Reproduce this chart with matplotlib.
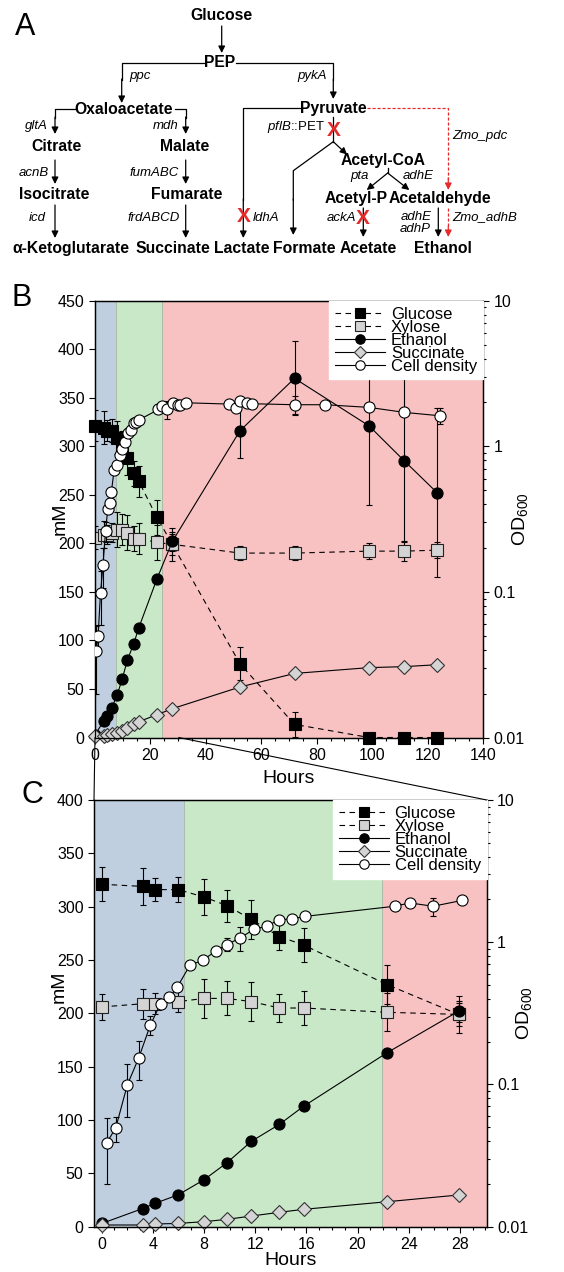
import numpy as np
import matplotlib
matplotlib.use('Agg')
from matplotlib import pyplot as plt
from matplotlib.patches import ConnectionPatch
from matplotlib.ticker import MultipleLocator, FuncFormatter, LogLocator

plt.rcParams['font.family'] = ['Liberation Sans', 'DejaVu Sans']
plt.rcParams['mathtext.fontset'] = 'custom'
plt.rcParams['mathtext.rm'] = 'Liberation Sans'
plt.rcParams['mathtext.it'] = 'Liberation Sans:italic'

# =============================================================================
# Data
# =============================================================================
# early time course (0-28 h), shown in C and in B
t_sugar = [0.0, 3.2, 4.2, 6.0, 8.0, 9.8, 11.7, 13.9, 15.8, 22.3, 27.9]
glucose = [321, 319, 316, 316, 309, 301, 288, 272, 264, 227, 199]
glucose_err = [16, 17, 11, 12, 17, 15, 18, 13, 16, 18, 11]
xylose = [206, 209, 209, 211, 214, 214, 211, 205, 205, 201, 199]
xylose_err = [12, 14, 10, 10, 18, 16, 18, 13, 16, 18, 17]
ethanol = [3, 17, 22, 30, 44, 60, 80, 96, 113, 163, 202]
ethanol_err = [0, 0, 0, 0, 0, 0, 0, 0, 0, 0, 10]
succinate = [1.6, 1.6, 2.5, 3.1, 4.7, 6.9, 10, 13.5, 16.3, 23.4, 29.7]

t_od = [0.4, 1.1, 2.0, 2.9, 3.8, 4.6, 5.3, 5.9, 6.9, 7.9, 8.9, 9.8, 10.8,
        11.9, 12.9, 13.9, 14.9, 15.9, 22.9, 24.1, 25.9, 28.2]
od600 = [0.039, 0.0495, 0.099, 0.154, 0.261, 0.369, 0.41, 0.483, 0.689,
         0.747, 0.865, 0.963, 1.07, 1.23, 1.30, 1.44, 1.46, 1.52, 1.79,
         1.89, 1.79, 1.97]
od600_err = [0.019, 0.01, 0.04, 0.047, 0.04, 0.02, 0.02, 0.03, 0.03, 0.03,
             0.06, 0.1, 0.2, 0.08, 0.1, 0.06, 0.06, 0.05, 0.05, 0.05, 0.25, 0.05]

# late time course (B only)
t_late = [52.3, 72.0, 98.9, 111.6, 123.5]
glucose_late = [76, 13.5, 0, 0, 0]
glucose_late_err = [17, 13, 0, 0, 0]
xylose_late = [190, 190, 192, 192, 193]
xylose_late_err = [7, 7, 8, 10, 8]
ethanol_late = [316, 370, 321, 285, 252]
ethanol_late_err = [28, 38, 81, 84, 87]
succinate_late = [52, 66, 72, 73, 75]

t_od_late = [30.1, 30.7, 32.9, 48.4, 50.8, 52.3, 54.8, 56.8, 72.2, 83.0,
             98.9, 111.6, 124.5]
od600_late = [1.91, 1.93, 1.99, 1.95, 1.83, 2.06, 1.99, 1.96, 1.93, 1.93,
              1.85, 1.71, 1.62]
od600_late_err = [0.05, 0.05, 0.05, 0.05, 0.05, 0.05, 0.05, 0.05, 0.27,
                  0.05, 0.05, 0.05, 0.2]

# growth phases (h)
phases_B = [(0, 7.5, '#bfcfe0'), (7.5, 24.3, '#c8e8c8'), (24.3, 140, '#f8c2c2')]
phases_C = [(-1, 6.4, '#bfcfe0'), (6.4, 21.9, '#c8e8c8'), (21.9, 31, '#f8c2c2')]

RED = '#e52a2a'


# =============================================================================
# Def plotting of one time-course panel
# =============================================================================
def draw_panel(ax, ts, g, ge, xy, xye, et, ete, su, to, od, ode, phases,
               mm_y, hours_pad):
    for a, b, c in phases:
        ax.axvspan(a, b, facecolor=c, edgecolor='#a8b8a8', lw=0.6, zorder=0)
    dash = (0, (5, 4))
    for vals, errs in ((g, ge), (xy, xye), (et, ete)):
        ax.errorbar(ts, vals, yerr=errs, fmt='none', ecolor='k', elinewidth=0.8,
                    capsize=2.5, capthick=0.8, zorder=2)
    h1, = ax.plot(ts, g, ls=dash, color='k', lw=0.8, marker='s', ms=8.5,
                  mfc='k', mec='k', mew=0.8, zorder=3, clip_on=False)
    h2, = ax.plot(ts, xy, ls=dash, color='k', lw=0.8, marker='s', ms=8.5,
                  mfc='#d4d4d4', mec='#222222', mew=0.8, zorder=3)
    h3, = ax.plot(ts, et, ls='-', color='k', lw=0.8, marker='o', ms=8,
                  mfc='k', mec='k', mew=0.8, zorder=3)
    h4, = ax.plot(ts, su, ls='-', color='k', lw=0.8, marker='D', ms=7,
                  mfc='#d4d4d4', mec='#333333', mew=0.8, zorder=3, clip_on=False)
    tw = ax.twinx()
    tw.set_yscale('log')
    tw.errorbar(to, od, yerr=ode, fmt='none', ecolor='k', elinewidth=0.8,
                capsize=2.5, capthick=0.8, zorder=2)
    h5, = tw.plot(to, od, ls='-', color='k', lw=0.8, marker='o', ms=8,
                  mfc='white', mec='k', mew=0.8, zorder=3)
    tw.set_ylim(0.01, 10)
    tw.yaxis.set_major_formatter(FuncFormatter(lambda v, p: '%g' % v))
    tw.yaxis.set_minor_locator(LogLocator(base=10, subs=np.arange(2, 10)))
    tw.set_ylabel(r'OD$_{600}$', fontsize=14)
    tw.yaxis.set_label_coords(1.07, 0.5)
    for a in (ax, tw):
        a.tick_params(axis='both', which='both', direction='out', labelsize=11.5)
        a.tick_params(which='major', length=4, width=0.8)
        a.tick_params(which='minor', length=2.5, width=0.8)
        for s in a.spines.values():
            s.set_linewidth(0.9)
    ax.set_ylabel('mM', fontsize=14)
    ax.yaxis.set_label_coords(-0.068, mm_y)
    ax.set_xlabel('Hours', fontsize=14, labelpad=hours_pad)
    ax.yaxis.set_major_locator(MultipleLocator(50))
    leg = tw.legend([h1, h2, h3, h4, h5],
                    ['Glucose', 'Xylose', 'Ethanol', 'Succinate', 'Cell density'],
                    loc='upper right', borderaxespad=0, frameon=True,
                    fancybox=False, edgecolor='white', framealpha=1,
                    fontsize=12, labelspacing=-0.12, handlelength=3.0,
                    handletextpad=0.35, borderpad=0.35, markerscale=0.85)
    leg.set_zorder(10)
    return tw


fig = plt.figure(figsize=(5.64, 12.72), dpi=100)
W, H = 564.0, 1272.0

# =============================================================================
# Panel A: pathway scheme (pixel coordinates, y downwards)
# =============================================================================
axA = fig.add_axes([0, 1 - 280 / H, 1, 280 / H])
axA.set_xlim(0, W)
axA.set_ylim(280, 0)
axA.axis('off')


def node(x, y, s):
    axA.text(x, y, s, fontsize=11.3, fontweight='bold', ha='center', va='center')


def gene(x, y, s, ha='center'):
    axA.text(x, y, s, fontsize=9.5, style='italic', ha=ha, va='center')


def arrow(x0, y0, x1, y1, color='k', ls='-'):
    axA.annotate('', xy=(x1, y1), xytext=(x0, y0),
                 arrowprops=dict(arrowstyle='-|>', mutation_scale=10, lw=0.9,
                                 color=color, linestyle=ls, shrinkA=0, shrinkB=0))


def cross(x, y):
    axA.text(x, y, 'X', fontsize=15, fontweight='bold', color=RED,
             ha='center', va='center')


node(221.7, 16, 'Glucose')
arrow(221.7, 26, 221.7, 53)
node(220, 62.7, 'PEP')
axA.plot([205, 121.7, 121.7], [62.7, 62.7, 80], color='k', lw=0.9)
arrow(121.7, 79, 121.7, 103)
axA.plot([236, 333.3, 333.3], [62.7, 62.7, 80], color='k', lw=0.9)
arrow(333.3, 79, 333.3, 99)
gene(140, 76, 'ppc')
gene(311.7, 76, 'pykA')

node(123.3, 109.3, 'Oxaloacetate')
axA.plot([76, 55, 55], [109.3, 109.3, 118], color='k', lw=0.9)
arrow(55, 117, 55, 134)
gene(36.7, 126, 'gltA')
axA.plot([175, 185.7, 185.7], [109.3, 109.3, 118], color='k', lw=0.9)
arrow(185.7, 117, 185.7, 134)
gene(165.7, 126, 'mdh')
node(56, 146.7, 'Citrate')
node(185, 146.7, 'Malate')
arrow(55, 160, 55, 184)
gene(34.3, 173.3, 'acnB')
node(54.3, 194.3, 'Isocitrate')
arrow(185.7, 160, 185.7, 184)
gene(154.3, 173.3, 'fumABC')
node(186.7, 194.3, 'Fumarate')
arrow(55, 205, 55, 238)
gene(37.7, 218.3, 'icd')
node(71, 248.3, 'α-Ketoglutarate')
arrow(185.7, 205, 185.7, 238)
gene(153.3, 218.3, 'frdABCD')
node(173.3, 248.3, 'Succinate')

node(333.3, 108.3, 'Pyruvate')
axA.plot([300, 243.3, 243.3], [108.3, 108.3, 200], color='k', lw=0.9)
arrow(243.3, 199, 243.3, 238)
cross(243.3, 216)
gene(253, 218.3, 'ldhA', ha='left')
node(241.7, 248.3, 'Lactate')

axA.plot([333.3, 333.3], [117, 141.7], color='k', lw=0.9)
cross(333.3, 130.7)
axA.text(325, 126.7, r'$\mathit{pflB}$::PET', fontsize=9.5, ha='right', va='center')
axA.plot([333.3, 293.3, 293.3], [141.7, 170.7, 200], color='k', lw=0.9)
arrow(293.3, 199, 293.3, 235)
node(304, 248.3, 'Formate')
arrow(333.3, 141.7, 347, 154.5)
node(382.7, 161, 'Acetyl-CoA')
axA.plot([387.7, 387.7], [168, 173], color='k', lw=0.9)
arrow(387.7, 173, 366.7, 190)
arrow(387.7, 173, 409.3, 190)
gene(359.3, 176, 'pta')
gene(418.3, 176, 'adhE')
node(356, 198.3, 'Acetyl-P')
node(440, 198.3, 'Acetaldehyde')
arrow(363.3, 208, 363.3, 237)
cross(362.7, 218.3)
gene(341, 218.3, 'ackA')
node(368.3, 248.3, 'Acetate')
arrow(438.3, 208, 438.3, 237)
axA.plot([448.3, 448.3], [208, 228], color=RED, lw=0.9, ls=(0, (2.5, 1.5)))
arrow(448.3, 226, 448.3, 237, color=RED)
gene(416, 216.7, 'adhE')
gene(415, 229.3, 'adhP')
gene(485, 216.7, 'Zmo_adhB')
node(443.3, 248.3, 'Ethanol')
axA.plot([366.7, 448.3, 448.3], [108.3, 108.3, 180], color=RED, lw=0.9,
         ls=(0, (2.5, 1.5)))
arrow(448.3, 178, 448.3, 190, color=RED)
gene(480, 136, 'Zmo_pdc')

# =============================================================================
# Panel B: full fermentation
# =============================================================================
axB = fig.add_axes([95 / W, 1 - 737.5 / H, 388 / W, 436.8 / H])
draw_panel(axB,
           t_sugar + t_late, glucose + glucose_late, glucose_err + glucose_late_err,
           xylose + xylose_late, xylose_err + xylose_late_err,
           ethanol + ethanol_late, ethanol_err + ethanol_late_err,
           succinate + succinate_late,
           t_od + t_od_late, od600 + od600_late, od600_err + od600_late_err,
           phases_B, 0.5, 5)
axB.set_xlim(0, 140)
axB.set_ylim(0, 450)
axB.xaxis.set_major_locator(MultipleLocator(20))
axB.xaxis.set_minor_locator(MultipleLocator(5))

# =============================================================================
# Panel C: first 28 h
# =============================================================================
axC = fig.add_axes([94 / W, 1 - 1226.7 / H, 392.7 / W, 426.7 / H])
draw_panel(axC, t_sugar, glucose, glucose_err, xylose, xylose_err,
           ethanol, ethanol_err, succinate, t_od, od600, od600_err, phases_C,
           0.5625, 0)
axC.set_xlim(-0.6, 30.1)
axC.set_ylim(0, 400)
axC.xaxis.set_major_locator(MultipleLocator(4))
axC.xaxis.set_minor_locator(MultipleLocator(1))

# zoom connectors
for xa, xb in ((0, 0), (30.2, 1)):
    con = ConnectionPatch(xyA=(xa, 0), coordsA=axB.transData,
                          xyB=(xb, 1), coordsB=axC.transAxes,
                          color='k', lw=0.8)
    fig.add_artist(con)

fig.text(25 / W, 1 - 27 / H, 'A', fontsize=22, ha='center', va='center')
fig.text(22 / W, 1 - 298 / H, 'B', fontsize=22, ha='center', va='center')
fig.text(32 / W, 1 - 795 / H, 'C', fontsize=22, ha='center', va='center')

fig.savefig('out.png', dpi=100)
